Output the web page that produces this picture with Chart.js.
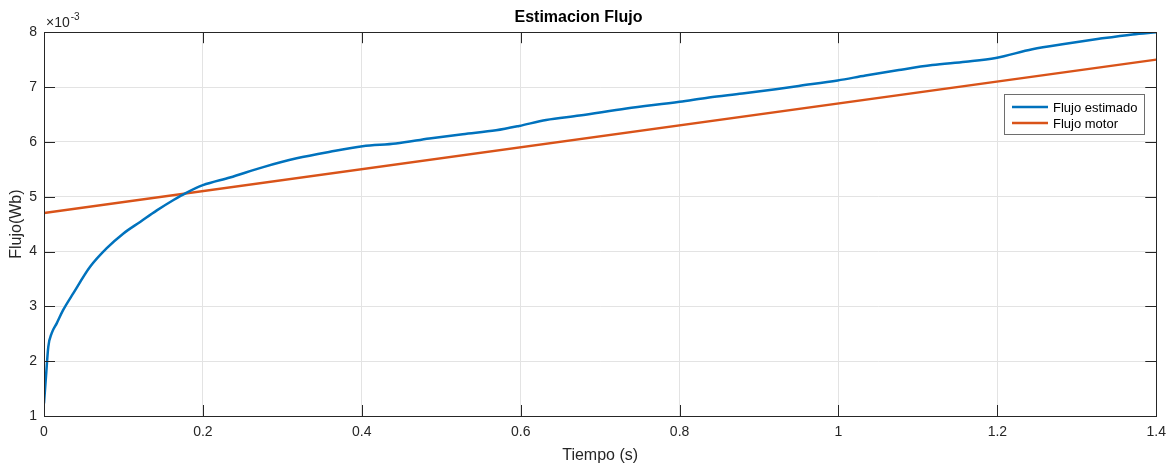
<!DOCTYPE html>
<html>
<head>
<meta charset="utf-8">
<title>Estimacion Flujo</title>
<script src="https://cdn.jsdelivr.net/npm/chart.js@4.4.1/dist/chart.umd.min.js"></script>
<style>
  html, body { margin: 0; padding: 0; background: #fff; }
  #wrap { width: 1174px; height: 468px; }
</style>
</head>
<body>
<div id="wrap"><canvas id="fluxChart" width="1174" height="468"></canvas></div>
<script>
// flux values are in units of 1e-3 Wb (axis shows x10^-3)
const tEstimated = [
    0, 0.0025, 0.0054, 0.0097, 0.016, 0.024, 0.037, 0.058, 0.079, 0.10,
    0.121, 0.142, 0.163, 0.179, 0.20, 0.234, 0.276, 0.318, 0.360, 0.401,
    0.443, 0.485, 0.527, 0.569, 0.598, 0.632, 0.674, 0.733, 0.80, 0.837,
    0.879, 0.921, 0.950, 0.999, 1.034, 1.076, 1.118, 1.160, 1.198, 1.244,
    1.286, 1.328, 1.370, 1.4
];
const fluxEstimated = [
    1.23, 1.72, 2.26, 2.51, 2.69, 2.93, 3.24, 3.72, 4.06, 4.33,
    4.54, 4.75, 4.94, 5.07, 5.21, 5.35, 5.54, 5.70, 5.82, 5.92,
    5.97, 6.06, 6.14, 6.21, 6.29, 6.40, 6.48, 6.61, 6.73, 6.81,
    6.88, 6.96, 7.02, 7.12, 7.21, 7.31, 7.40, 7.46, 7.53, 7.69,
    7.79, 7.88, 7.96, 8.0
];

const tMotor = [0, 1.4];
const fluxMotor = [4.7, 7.5];

const xTicks = [0, 0.2, 0.4, 0.6, 0.8, 1, 1.2, 1.4];
const yTicks = [1, 2, 3, 4, 5, 6, 7, 8];

const seriesNames = ['Flujo estimado', 'Flujo motor'];
const seriesColors = ['#0072BD', '#D95319'];

const FONT = '"Liberation Sans", Arial, Helvetica, sans-serif';
const TEXT = '#262626';

function toPoints(xs, ys) {
    return xs.map((x, i) => ({ x: x, y: ys[i] }));
}

// axes box, inward ticks, exponent label and legend
const matlabAxes = {
    id: 'matlabAxes',
    afterDatasetsDraw(chart) {
        const ctx = chart.ctx;
        const area = chart.chartArea;
        const xs = chart.scales.x;
        const ys = chart.scales.y;
        const tickLen = 11;

        ctx.save();
        ctx.strokeStyle = TEXT;
        ctx.lineWidth = 1;

        ctx.beginPath();
        xTicks.forEach((v) => {
            const px = Math.round(xs.getPixelForValue(v)) + 0.5;
            ctx.moveTo(px, area.bottom);
            ctx.lineTo(px, area.bottom - tickLen);
            ctx.moveTo(px, area.top);
            ctx.lineTo(px, area.top + tickLen);
        });
        yTicks.forEach((v) => {
            const py = Math.round(ys.getPixelForValue(v)) + 0.5;
            ctx.moveTo(area.left, py);
            ctx.lineTo(area.left + tickLen, py);
            ctx.moveTo(area.right, py);
            ctx.lineTo(area.right - tickLen, py);
        });
        ctx.stroke();

        ctx.strokeRect(
            Math.round(area.left) + 0.5,
            Math.round(area.top) + 0.5,
            Math.round(area.right - area.left),
            Math.round(area.bottom - area.top)
        );

        // x10^-3 multiplier
        ctx.fillStyle = TEXT;
        ctx.textBaseline = 'alphabetic';
        ctx.textAlign = 'left';
        ctx.font = '14px ' + FONT;
        ctx.fillText('\u00d710', area.left + 2, area.top - 5);
        const w = ctx.measureText('\u00d710').width;
        ctx.font = '10px ' + FONT;
        ctx.fillText('-3', area.left + 2 + w + 1, area.top - 12);

        // legend
        const boxX = 1004.5, boxY = 94.5, boxW = 140, boxH = 40;
        ctx.fillStyle = '#fff';
        ctx.fillRect(boxX, boxY, boxW, boxH);
        ctx.strokeStyle = '#6e6e6e';
        ctx.strokeRect(boxX, boxY, boxW, boxH);

        ctx.font = '13px ' + FONT;
        ctx.textBaseline = 'middle';
        chart.data.datasets.forEach((ds, i) => {
            const rowY = 107 + i * 16;
            ctx.strokeStyle = ds.borderColor;
            ctx.lineWidth = 2.5;
            ctx.beginPath();
            ctx.moveTo(1012, rowY);
            ctx.lineTo(1048, rowY);
            ctx.stroke();
            ctx.fillStyle = '#000';
            ctx.fillText(ds.label, 1053, rowY + 1);
        });

        ctx.restore();
    }
};

const ctx = document.getElementById('fluxChart').getContext('2d');

new Chart(ctx, {
    type: 'line',
    data: {
        datasets: [
            {
                label: seriesNames[0],
                data: toPoints(tEstimated, fluxEstimated),
                borderColor: seriesColors[0],
                borderWidth: 2.5,
                pointRadius: 0,
                cubicInterpolationMode: 'monotone',
                fill: false
            },
            {
                label: seriesNames[1],
                data: toPoints(tMotor, fluxMotor),
                borderColor: seriesColors[1],
                borderWidth: 2.5,
                pointRadius: 0,
                fill: false
            }
        ]
    },
    options: {
        responsive: false,
        animation: false,
        devicePixelRatio: 1,
        layout: {
            padding: { left: 0, right: 17, top: 0, bottom: 0 }
        },
        plugins: {
            legend: { display: false },
            tooltip: { enabled: false },
            title: {
                display: true,
                text: 'Estimacion Flujo',
                color: '#000',
                font: { family: FONT, size: 16, weight: 'bold', lineHeight: 1.2 },
                padding: { top: 8, bottom: 5 }
            }
        },
        scales: {
            x: {
                type: 'linear',
                min: 0,
                max: 1.4,
                afterBuildTicks: (scale) => {
                    scale.ticks = xTicks.map((v) => ({ value: v }));
                },
                afterFit: (scale) => { scale.height = 52; },
                border: { display: false },
                grid: { color: '#e3e3e3', lineWidth: 1, drawTicks: false },
                ticks: {
                    color: TEXT,
                    padding: 8,
                    maxRotation: 0,
                    font: { family: FONT, size: 14 },
                    callback: (v) => String(Math.round(v * 10) / 10)
                },
                title: {
                    display: true,
                    text: 'Tiempo (s)',
                    color: TEXT,
                    font: { family: FONT, size: 16, lineHeight: 1.2 },
                    padding: { top: 0, bottom: 3 }
                }
            },
            y: {
                type: 'linear',
                min: 1,
                max: 8,
                afterBuildTicks: (scale) => {
                    scale.ticks = yTicks.map((v) => ({ value: v }));
                },
                afterFit: (scale) => { scale.width = 44; },
                border: { display: false },
                grid: { color: '#e3e3e3', lineWidth: 1, drawTicks: false },
                ticks: {
                    color: TEXT,
                    padding: 7,
                    font: { family: FONT, size: 14 }
                },
                title: {
                    display: true,
                    text: 'Flujo(Wb)',
                    color: TEXT,
                    font: { family: FONT, size: 16, lineHeight: 1.2 },
                    padding: { top: 7, bottom: 0 }
                }
            }
        }
    },
    plugins: [matlabAxes]
});
</script>
</body>
</html>
